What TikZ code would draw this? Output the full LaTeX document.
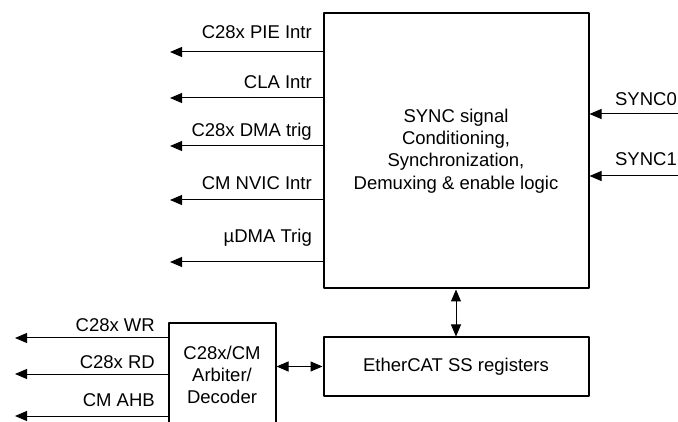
\documentclass[tikz,border=0pt]{standalone}
\usepackage{fontspec}
\setmainfont{Liberation Sans}
\usetikzlibrary{arrows.meta,positioning}

\begin{document}
\begin{tikzpicture}[x=1pt,y=-1pt,line join=round,
  every node/.style={font=\fontsize{18.5}{22.3}\selectfont},
  blk/.style={draw,line width=2pt,align=center,inner sep=0pt},
  sig/.style={line width=1pt,-{Triangle[length=12pt,width=10pt]}},
  bus/.style={line width=1pt,{Triangle[length=12pt,width=10pt]}-{Triangle[length=12pt,width=10pt]}},
  lbl/.style={anchor=base east,inner sep=0pt}]
\useasboundingbox (0,0) rectangle (678,422);
% blocks
\node[blk,minimum width=265pt,minimum height=275pt] (sync) at (456,151)
  {SYNC signal\\Conditioning,\\Synchronization,\\Demuxing \& enable logic};
\node[blk,minimum width=265pt,minimum height=58pt,below=47pt of sync] (eth)
  {EtherCAT SS registers};
\node[blk,minimum width=107pt,minimum height=104pt] (arb) at (222,375)
  {C28x/CM\\Arbiter/\\Decoder};
% interrupt and trigger outputs
\coordinate (pie) at (170,52);
\coordinate (cla) at (170,98);
\coordinate (dma) at (170,146);
\coordinate (nvic) at (170,200);
\coordinate (udma) at (170,262);
\draw[sig] (sync.west|-pie) -- (pie);
\draw[sig] (sync.west|-cla) -- (cla);
\draw[sig] (sync.west|-dma) -- (dma);
\draw[sig] (sync.west|-nvic) -- (nvic);
\draw[sig] (sync.west|-udma) -- (udma);
\node[lbl] (pieL) at (312,39) {C28x PIE Intr};
\node[lbl] (claL) at (312,89) {CLA Intr};
\node[lbl] (dmaL) at (312,137) {C28x DMA trig};
\node[lbl] (nvicL) at (312,190) {CM NVIC Intr};
\node[lbl] (udmaL) at (312,243) {µDMA Trig};
% sync inputs
\coordinate (s0) at (678,114);
\coordinate (s1) at (678,176);
\draw[sig] (s0) -- (s0-|sync.east);
\draw[sig] (s1) -- (s1-|sync.east);
\node[lbl] (s0L) at (677,106) {SYNC0};
\node[lbl] (s1L) at (677,166) {SYNC1};
% bus outputs
\coordinate (wr) at (15,338);
\coordinate (rd) at (15,374);
\coordinate (ahb) at (15,416);
\draw[sig] (arb.west|-wr) -- (wr);
\draw[sig] (arb.west|-rd) -- (rd);
\draw[sig] (arb.west|-ahb) -- (ahb);
\node[lbl] (wrL) at (155,332) {C28x WR};
\node[lbl] (rdL) at (155,368) {C28x RD};
\node[lbl] (ahbL) at (155,406) {CM AHB};
% register access
\draw[bus] (sync) -- (eth);
\draw[bus] (arb.east|-eth) -- (eth.west);
\end{tikzpicture}
\end{document}
